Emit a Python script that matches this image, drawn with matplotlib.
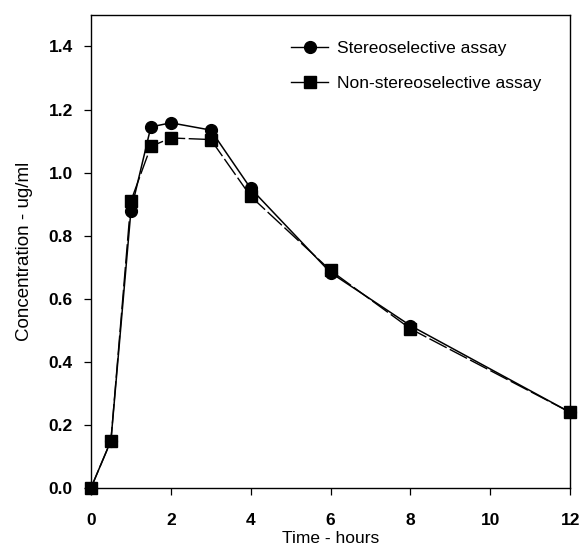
import matplotlib
matplotlib.use('Agg')

import matplotlib.pyplot as plt
from matplotlib.lines import Line2D

plt.rcParams['font.family'] = ['Liberation Sans', 'DejaVu Sans']

# data
time_h = [0, 0.5, 1, 1.5, 2, 3, 4, 6, 8, 12]
stereo = [0.0, 0.15, 0.878, 1.145, 1.158, 1.135, 0.95, 0.683, 0.515, 0.24]
non_stereo = [0.0, 0.15, 0.91, 1.083, 1.11, 1.105, 0.925, 0.69, 0.505, 0.24]

x_ticks = [0, 2, 4, 6, 8, 10, 12]
y_ticks = [0.0, 0.2, 0.4, 0.6, 0.8, 1.0, 1.2, 1.4]

fig = plt.figure(figsize=(5.83, 5.54), dpi=100)
ax = fig.add_axes([0.156, 0.119, 0.822, 0.854])

ax.plot(time_h, non_stereo, color='black', lw=1.0, ls=(0, (14, 2.5)),
        marker='s', ms=8, zorder=2, clip_on=False)
ax.plot(time_h, stereo, color='black', lw=1.1,
        marker='o', ms=8.5, zorder=3, clip_on=False)

ax.set_xlim(0, 12)
ax.set_ylim(0, 1.5)
ax.set_xticks(x_ticks)
ax.set_yticks(y_ticks)
ax.set_xticklabels([str(t) for t in x_ticks], fontweight='bold', fontsize=12.5)
ax.set_yticklabels([f'{v:.1f}' for v in y_ticks], fontweight='bold', fontsize=12.5)
ax.tick_params(direction='out', length=5, width=0.9)
ax.tick_params(axis='x', pad=13)
ax.tick_params(axis='y', pad=8)
for s in ax.spines.values():
    s.set_linewidth(1.0)

ax.set_xlabel('Time - hours', fontsize=12.5, labelpad=2)
ax.set_ylabel('Concentration - ug/ml', fontsize=13.5, labelpad=11)

handles = [
    Line2D([], [], color='black', lw=1.0, marker='o', ms=8.5),
    Line2D([], [], color='black', lw=1.0, marker='s', ms=8),
]
ax.legend(handles, ['Stereoselective assay', 'Non-stereoselective assay'],
          loc='upper left', bbox_to_anchor=(0.4, 0.963), frameon=False,
          fontsize=12.5, handlelength=2.1, handletextpad=0.55,
          labelspacing=1.15, borderpad=0)

fig.savefig('out.png', dpi=100)
